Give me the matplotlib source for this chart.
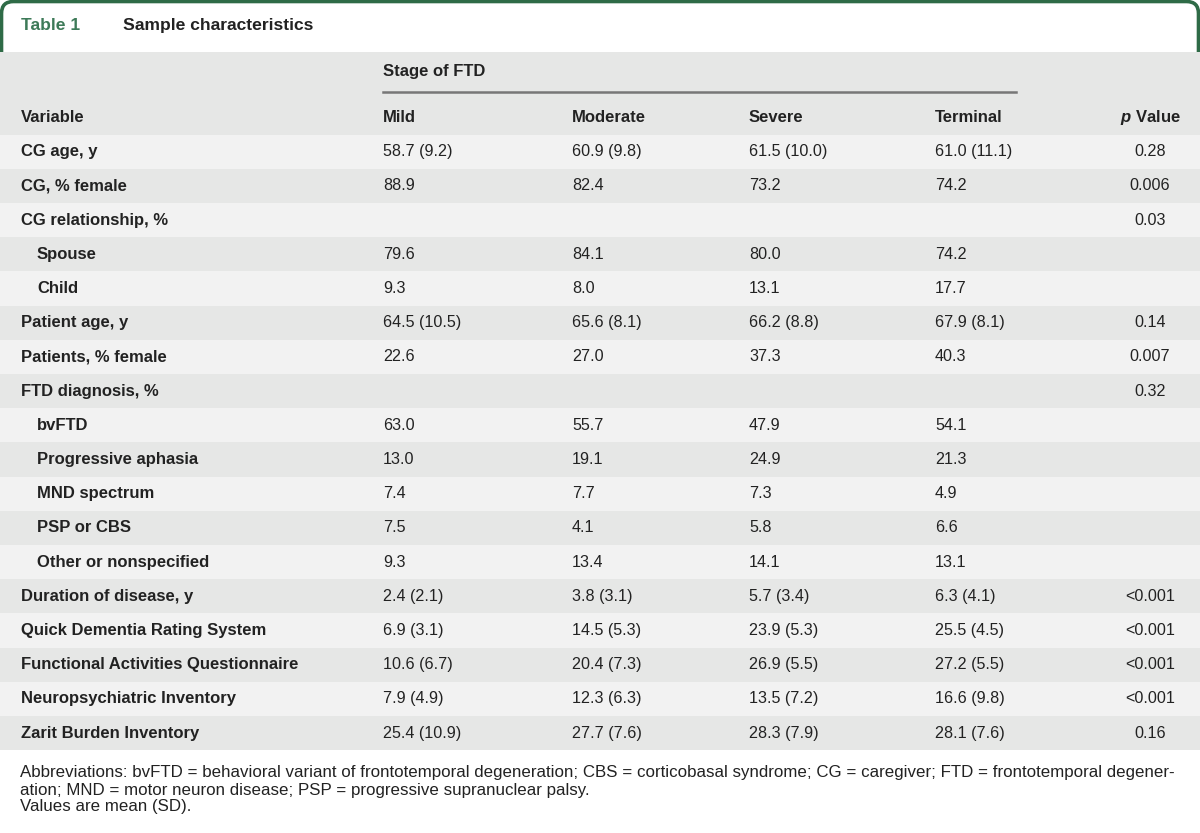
import matplotlib
matplotlib.use("Agg")
import matplotlib.pyplot as plt
from matplotlib.patches import Rectangle
from matplotlib.path import Path
from matplotlib.patches import PathPatch

plt.rcParams['font.family'] = ['Liberation Sans', 'DejaVu Sans']
plt.rcParams['mathtext.fontset'] = 'custom'
plt.rcParams['mathtext.it'] = 'Liberation Sans:italic:bold'
plt.rcParams['mathtext.rm'] = 'Liberation Sans:bold'

title_num = "Table 1"
title_text = "Sample characteristics"
group_header = "Stage of FTD"
col_headers = ["Variable", "Mild", "Moderate", "Severe", "Terminal", "$p$ Value"]

variables = ["CG age, y", "CG, % female", "CG relationship, %", "Spouse", "Child",
             "Patient age, y", "Patients, % female", "FTD diagnosis, %", "bvFTD",
             "Progressive aphasia", "MND spectrum", "PSP or CBS", "Other or nonspecified",
             "Duration of disease, y", "Quick Dementia Rating System",
             "Functional Activities Questionnaire", "Neuropsychiatric Inventory",
             "Zarit Burden Inventory"]
indented = [False, False, False, True, True, False, False, False, True, True, True,
            True, True, False, False, False, False, False]
mild = ["58.7 (9.2)", "88.9", "", "79.6", "9.3", "64.5 (10.5)", "22.6", "", "63.0",
        "13.0", "7.4", "7.5", "9.3", "2.4 (2.1)", "6.9 (3.1)", "10.6 (6.7)", "7.9 (4.9)",
        "25.4 (10.9)"]
moderate = ["60.9 (9.8)", "82.4", "", "84.1", "8.0", "65.6 (8.1)", "27.0", "", "55.7",
            "19.1", "7.7", "4.1", "13.4", "3.8 (3.1)", "14.5 (5.3)", "20.4 (7.3)",
            "12.3 (6.3)", "27.7 (7.6)"]
severe = ["61.5 (10.0)", "73.2", "", "80.0", "13.1", "66.2 (8.8)", "37.3", "", "47.9",
          "24.9", "7.3", "5.8", "14.1", "5.7 (3.4)", "23.9 (5.3)", "26.9 (5.5)",
          "13.5 (7.2)", "28.3 (7.9)"]
terminal = ["61.0 (11.1)", "74.2", "", "74.2", "17.7", "67.9 (8.1)", "40.3", "", "54.1",
            "21.3", "4.9", "6.6", "13.1", "6.3 (4.1)", "25.5 (4.5)", "27.2 (5.5)",
            "16.6 (9.8)", "28.1 (7.6)"]
pvalues = ["0.28", "0.006", "0.03", "", "", "0.14", "0.007", "0.32", "", "", "", "", "",
           "<0.001", "<0.001", "<0.001", "<0.001", "0.16"]
footnotes = [
    "Abbreviations: bvFTD = behavioral variant of frontotemporal degeneration; CBS = corticobasal syndrome; CG = caregiver; FTD = frontotemporal degener-",
    "ation; MND = motor neuron disease; PSP = progressive supranuclear palsy.",
    "Values are mean (SD).",
]

W, H = 1200, 833
fig = plt.figure(figsize=(12, 8.33), dpi=100)
ax = fig.add_axes([0, 0, 1, 1])
ax.set_xlim(0, W)
ax.set_ylim(H, 0)
ax.axis('off')

green = "#2f6b47"
title_green = "#3d7a58"
text_col = "#222222"
light = "#f2f2f2"
dark = "#e6e7e6"

# Title frame (rounded top corners, sides down to header)
r = 12
verts = [(1.5, 52), (1.5, 1.5 + r), (1.5, 1.5), (1.5 + r, 1.5), (W - 1.5 - r, 1.5),
         (W - 1.5, 1.5), (W - 1.5, 1.5 + r), (W - 1.5, 52)]
codes = [Path.MOVETO, Path.LINETO, Path.CURVE3, Path.CURVE3, Path.LINETO,
         Path.CURVE3, Path.CURVE3, Path.LINETO]
ax.add_patch(PathPatch(Path(verts, codes), facecolor='none', edgecolor=green, lw=2.6))

ax.text(21, 25, title_num, color=title_green, fontsize=12.6, fontweight='bold', va='center')
ax.text(123, 25, title_text, color=text_col, fontsize=12.6, fontweight='bold', va='center')

# Header background
hdr_top, hdr_bot = 52, 134.5
ax.add_patch(Rectangle((0, hdr_top), W, hdr_bot - hdr_top, facecolor=dark, edgecolor='none'))

lab_fs = 12.0
val_fs = 11.6
col_x = [21, 383, 572, 749, 935, 1150]
ax.text(col_x[1], 71, group_header, fontsize=lab_fs, fontweight='bold', color=text_col, va='center')
ax.plot([col_x[1], 1016], [92, 92], color='#777777', lw=1.8)
for i, h in enumerate(col_headers):
    ha = 'center' if i == 5 else 'left'
    ax.text(col_x[i], 117, h, fontsize=lab_fs, fontweight='bold', color=text_col, va='center', ha=ha)

row_h = 34.2
for i, var in enumerate(variables):
    top = hdr_bot + i * row_h
    ax.add_patch(Rectangle((0, top), W, row_h, facecolor=light if i % 2 == 0 else dark,
                           edgecolor='none'))
    yc = top + row_h / 2
    ax.text(col_x[0] + (16 if indented[i] else 0), yc, var, fontsize=lab_fs, fontweight='bold',
            color=text_col, va='center')
    for j, col in enumerate([mild, moderate, severe, terminal]):
        ax.text(col_x[j + 1], yc, col[i], fontsize=val_fs, color=text_col, va='center')
    ax.text(col_x[5], yc, pvalues[i], fontsize=val_fs, color=text_col, va='center', ha='center')

foot_y = [773, 790, 807]
for y, t in zip(foot_y, footnotes):
    ax.text(20, y, t, fontsize=12.2, color=text_col, va='center')

fig.savefig("out.png", dpi=100, facecolor='white')
